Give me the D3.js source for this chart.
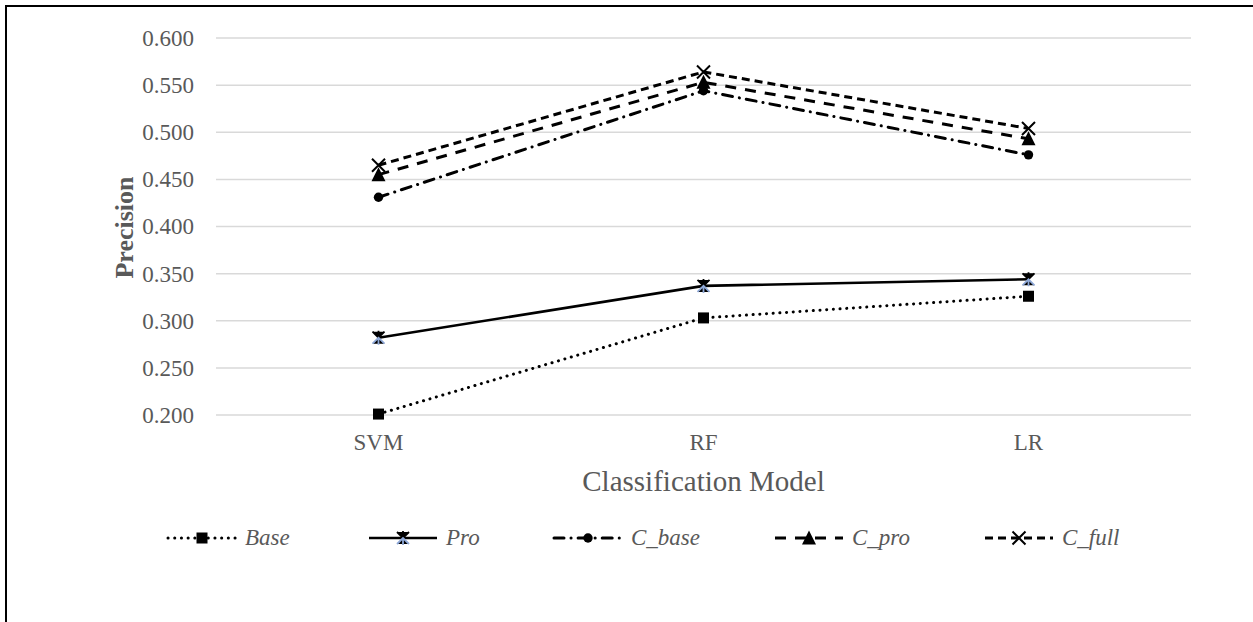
<!DOCTYPE html>
<html>
<head>
<meta charset="utf-8">
<script src="https://cdnjs.cloudflare.com/ajax/libs/d3/7.8.5/d3.min.js"></script>
<style>
  body { margin: 0; background: #fff; }
  text { font-family: "Liberation Serif", "Times New Roman", serif; }
</style>
</head>
<body>
<svg id="chart" width="1253" height="622"></svg>
<script>
const svg = d3.select("#chart");

// data
const models = ["SVM", "RF", "LR"];
const seriesNames = ["Base", "Pro", "C_base", "C_pro", "C_full"];
const baseVals = [0.201, 0.303, 0.326];
const proVals = [0.282, 0.337, 0.344];
const cBaseVals = [0.431, 0.544, 0.476];
const cProVals = [0.455, 0.553, 0.493];
const cFullVals = [0.465, 0.564, 0.504];
const yTicks = [0.2, 0.25, 0.3, 0.35, 0.4, 0.45, 0.5, 0.55, 0.6];

const series = [
  { name: "Base", values: baseVals, dash: "0.1 6.6", width: 3, cap: "round", marker: "square" },
  { name: "Pro", values: proVals, dash: null, width: 2.6, cap: "butt", marker: "star" },
  { name: "C_base", values: cBaseVals, dash: "10 7 0.1 7", width: 3, cap: "round", marker: "circle" },
  { name: "C_pro", values: cProVals, dash: "11 9", width: 3, cap: "butt", marker: "triangle" },
  { name: "C_full", values: cFullVals, dash: "8 5", width: 3, cap: "butt", marker: "x" }
];

const plotLeft = 216, plotRight = 1191, plotTop = 38, plotBottom = 415;
const grey = "#595959";

const x = d3.scaleBand().domain(models).range([plotLeft, plotRight]);
const y = d3.scaleLinear().domain([0.2, 0.6]).range([plotBottom, plotTop]);

// outer frame
svg.append("rect")
  .attr("x", 6).attr("y", 6)
  .attr("width", 1300).attr("height", 700)
  .attr("fill", "none").attr("stroke", "#000").attr("stroke-width", 2);

// gridlines
svg.append("g")
  .selectAll("line")
  .data(yTicks)
  .join("line")
  .attr("x1", plotLeft).attr("x2", plotRight)
  .attr("y1", d => y(d)).attr("y2", d => y(d))
  .attr("stroke", "#d9d9d9").attr("stroke-width", 1.5);

// y axis labels
const yAxis = d3.axisLeft(y).tickValues(yTicks).tickFormat(d3.format(".3f")).tickSize(0).tickPadding(22);
const gy = svg.append("g").attr("transform", `translate(${plotLeft},0)`).call(yAxis);
gy.select(".domain").remove();
gy.selectAll("text")
  .attr("fill", grey)
  .style("font-size", "23px")
  .style("font-family", "Liberation Serif");

// x axis labels
const xAxis = d3.axisBottom(x).tickSize(0).tickPadding(19);
const gx = svg.append("g").attr("transform", `translate(0,${plotBottom})`).call(xAxis);
gx.select(".domain").remove();
gx.selectAll("text")
  .attr("fill", grey)
  .style("font-size", "23px")
  .style("font-family", "Liberation Serif");

// axis titles
svg.append("text")
  .attr("transform", `translate(133,${(plotTop + plotBottom) / 2 + 1}) rotate(-90)`)
  .attr("text-anchor", "middle")
  .attr("fill", grey)
  .style("font-size", "26px")
  .style("font-weight", "bold")
  .text("Precision");

svg.append("text")
  .attr("x", (plotLeft + plotRight) / 2)
  .attr("y", 491)
  .attr("text-anchor", "middle")
  .attr("fill", grey)
  .style("font-size", "29px")
  .text("Classification Model");

function drawMarker(g, type, cx, cy) {
  if (type === "square") {
    g.append("rect").attr("x", cx - 5.5).attr("y", cy - 5.5).attr("width", 11).attr("height", 11).attr("fill", "#000");
  } else if (type === "circle") {
    g.append("circle").attr("cx", cx).attr("cy", cy).attr("r", 4.7).attr("fill", "#000");
  } else if (type === "triangle") {
    g.append("path").attr("d", `M${cx},${cy - 7.5}L${cx + 7},${cy + 6.5}L${cx - 7},${cy + 6.5}Z`).attr("fill", "#000");
  } else if (type === "x") {
    g.append("path").attr("d", `M${cx - 6.5},${cy - 6.5}L${cx + 6.5},${cy + 6.5}M${cx + 6.5},${cy - 6.5}L${cx - 6.5},${cy + 6.5}`)
      .attr("stroke", "#000").attr("stroke-width", 2);
  } else if (type === "star") {
    g.append("path").attr("d", `M${cx - 6},${cy - 6}L${cx},${cy}L${cx + 6},${cy - 6}M${cx},${cy - 7}L${cx},${cy}`)
      .attr("stroke", "#000").attr("stroke-width", 1.8);
    g.append("path").attr("d", `M${cx - 6},${cy + 6}L${cx},${cy}L${cx + 6},${cy + 6}M${cx},${cy + 7}L${cx},${cy}`)
      .attr("stroke", "#8fa9d8").attr("stroke-width", 1.8);
  }
}

const line = d3.line()
  .x((d, i) => x(models[i]) + x.bandwidth() / 2)
  .y(d => y(d));

const plot = svg.append("g");
series.forEach(s => {
  plot.append("path")
    .attr("d", line(s.values))
    .attr("fill", "none")
    .attr("stroke", "#000")
    .attr("stroke-width", s.width)
    .attr("stroke-linecap", s.cap)
    .attr("stroke-dasharray", s.dash);
});
series.forEach(s => {
  s.values.forEach((v, i) => {
    drawMarker(plot, s.marker, x(models[i]) + x.bandwidth() / 2, y(v));
  });
});

// legend
const legendX = [168, 369, 554, 775, 985];
const legendY = 538;
const legend = svg.append("g");
series.forEach((s, i) => {
  const x0 = legendX[i];
  const len = 68;
  legend.append("line")
    .attr("x1", x0).attr("x2", x0 + len)
    .attr("y1", legendY).attr("y2", legendY)
    .attr("stroke", "#000")
    .attr("stroke-width", s.width)
    .attr("stroke-linecap", s.cap)
    .attr("stroke-dasharray", s.dash);
  drawMarker(legend, s.marker, x0 + len / 2, legendY);
  legend.append("text")
    .attr("x", x0 + len + 9)
    .attr("y", legendY + 7)
    .attr("fill", grey)
    .style("font-size", "23px")
    .style("font-style", "italic")
    .text(seriesNames[i]);
});
</script>
</body>
</html>
